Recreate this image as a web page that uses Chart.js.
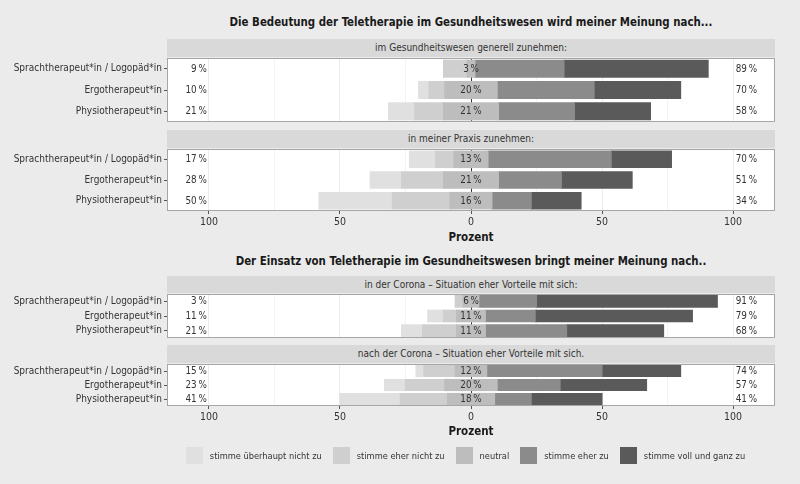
<!DOCTYPE html>
<html>
<head>
<meta charset="utf-8">
<script src="https://cdn.jsdelivr.net/npm/chart.js@4"></script>
<style>
  body { margin: 0; background: #ebebeb; font-family: "DejaVu Sans Condensed", "Liberation Sans Narrow", sans-serif; color: #222; }
  #wrap { position: relative; width: 800px; height: 484px; overflow: hidden; }
  canvas { position: absolute; left: 0; }
  .titel { position: absolute; left: 167px; width: 608px; text-align: center; font-weight: bold; font-size: 13px; line-height: 18px;
           white-space: nowrap; transform: scaleX(0.875); color: #1a1a1a; }
  .strip { position: absolute; left: 167px; width: 608px; background: #d9d9d9; text-align: center; font-size: 10px; color: #333; white-space: nowrap; }
  .achse { position: absolute; left: 167px; width: 608px; text-align: center; font-weight: bold; font-size: 11.5px; line-height: 16px; color: #1a1a1a; }
  #legende { position: absolute; left: 167px; width: 608px; top: 447px; display: flex; justify-content: center; align-items: center;
             font-size: 9.2px; color: #333; white-space: nowrap; }
  #legende span.box { display: inline-block; width: 17px; height: 17px; margin-right: 7px; }
  #legende span.txt { margin-right: 11px; }
</style>
</head>
<body>
<div id="wrap">
  <div class="titel" style="top:13px">Die Bedeutung der Teletherapie im Gesundheitswesen wird meiner Meinung nach...</div>
  <div class="strip" style="top:39px;height:18px;line-height:18px">im Gesundheitswesen generell zunehmen:</div>
  <canvas id="generell" width="800" height="64" style="top:58px"></canvas>
  <div class="strip" style="top:130px;height:18px;line-height:18px">in meiner Praxis zunehmen:</div>
  <canvas id="praxis" width="800" height="80" style="top:149px"></canvas>
  <div class="achse" style="top:229px">Prozent</div>

  <div class="titel" style="top:252px">Der Einsatz von Teletherapie im Gesundheitswesen bringt meiner Meinung nach..</div>
  <div class="strip" style="top:276px;height:17px;line-height:17px">in der Corona – Situation eher Vorteile mit sich:</div>
  <canvas id="coronaJetzt" width="800" height="44" style="top:294px"></canvas>
  <div class="strip" style="top:345px;height:18px;line-height:18px">nach der Corona – Situation eher Vorteile mit sich.</div>
  <canvas id="coronaNach" width="800" height="60" style="top:364px"></canvas>
  <div class="achse" style="top:423px">Prozent</div>

  <div id="legende"></div>
</div>

<script>
// ---------------------------------------------- Daten
const berufe = ['Sprachtherapeut*in / Logopäd*in', 'Ergotherapeut*in', 'Physiotherapeut*in'];
const stufen = ['stimme überhaupt nicht zu', 'stimme eher nicht zu', 'neutral', 'stimme eher zu', 'stimme voll und ganz zu'];
const farben = ['#e0e0e0', '#cfcfcf', '#bdbdbd', '#8b8b8b', '#5a5a5a'];

// je Beruf: [überhaupt nicht, eher nicht, neutral, eher zu, voll und ganz] in %
const generell    = [[0, 9, 3, 34, 55], [4, 6, 20, 37, 33], [10, 11, 21, 29, 29]];
const praxis      = [[10, 7, 13, 47, 23], [12, 16, 21, 24, 27], [28, 22, 16, 15, 19]];
const coronaJetzt = [[0, 3, 6, 22, 69], [6, 5, 11, 19, 60], [8, 13, 11, 31, 37]];
const coronaNach  = [[3, 12, 12, 44, 30], [8, 15, 20, 24, 33], [23, 18, 18, 14, 27]];

const achsenWerte = [-100, -75, -50, -25, 0, 25, 50, 75, 100];
const achsenText  = ['100', '', '50', '', '0', '', '50', '', '100'];

const schrift = '"DejaVu Sans Condensed", "Liberation Sans Narrow", sans-serif';
Chart.defaults.font.family = schrift;
Chart.defaults.font.size = 10;
Chart.defaults.color = '#333';

// weißer Hintergrund + Rahmen ums Panel
const panelPlugin = {
  id: 'panel',
  beforeDraw(chart) {
    const a = chart.chartArea, ctx = chart.ctx;
    ctx.save();
    ctx.fillStyle = '#ffffff';
    ctx.fillRect(a.left, a.top, a.right - a.left, a.bottom - a.top);
    ctx.restore();
  },
  afterDraw(chart) {
    const a = chart.chartArea, ctx = chart.ctx;
    ctx.save();
    ctx.strokeStyle = '#a6a6a6';
    ctx.lineWidth = 1;
    ctx.strokeRect(a.left + 0.5, a.top + 0.5, a.right - a.left - 1, a.bottom - a.top - 1);
    ctx.restore();
  }
};

function prozentPlugin(rows) {
  return {
    id: 'prozente',
    afterDatasetsDraw(chart) {
      const ctx = chart.ctx, x = chart.scales.x, y = chart.scales.y;
      ctx.save();
      ctx.font = '9.8px ' + schrift;
      ctx.fillStyle = '#333';
      ctx.textBaseline = 'middle';
      rows.forEach((r, i) => {
        const py = y.getPixelForValue(i) + 0.5;
        ctx.textAlign = 'right';
        ctx.fillText((r[0] + r[1]) + '\u2009%', x.getPixelForValue(-100.8), py);
        ctx.textAlign = 'center';
        ctx.fillText(r[2] + '\u2009%', x.getPixelForValue(0), py);
        ctx.textAlign = 'left';
        ctx.fillText((r[3] + r[4]) + '\u2009%', x.getPixelForValue(101), py);
      });
      ctx.restore();
    }
  };
}

function facette(id, rows, mitAchse) {
  const neg = k => rows.map(r => -r[k]);
  const pos = k => rows.map(r => r[k]);
  const datasets = [
    { label: stufen[2], data: rows.map(r => -r[2] / 2), backgroundColor: farben[2] },
    { label: stufen[1], data: neg(1), backgroundColor: farben[1] },
    { label: stufen[0], data: neg(0), backgroundColor: farben[0] },
    { label: stufen[2], data: rows.map(r => r[2] / 2), backgroundColor: farben[2] },
    { label: stufen[3], data: pos(3), backgroundColor: farben[3] },
    { label: stufen[4], data: pos(4), backgroundColor: farben[4] }
  ];
  datasets.forEach(d => {
    d.barPercentage = 0.8; d.categoryPercentage = 1; d.borderWidth = 0; d.inflateAmount = 0.5;
  });

  return new Chart(document.getElementById(id), {
    type: 'bar',
    data: { labels: berufe, datasets: datasets },
    options: {
      indexAxis: 'y',
      responsive: false,
      animation: false,
      devicePixelRatio: 1,
      layout: { padding: { left: 0, right: 25, top: 0, bottom: 0 } },
      plugins: { legend: { display: false }, tooltip: { enabled: false } },
      scales: {
        x: {
          stacked: true,
          min: -116,
          max: 116,
          afterBuildTicks: s => { s.ticks = achsenWerte.map(v => ({ value: v })); },
          afterFit: s => { s.height = mitAchse ? 18 : 0; s.paddingLeft = 0; s.paddingRight = 0; },
          ticks: { display: mitAchse, autoSkip: false, maxRotation: 0, padding: 2, color: '#333',
                   font: { size: 10.5 }, callback: (v, i) => achsenText[i] },
          grid: {
            drawTicks: mitAchse,
            tickLength: 3,
            color: c => c.tick && c.tick.value === 0 ? '#333' : '#ebebeb',
            lineWidth: c => c.tick && c.tick.value % 50 === 0 ? 1 : 0.6,
            tickColor: c => c.tick && c.tick.value % 50 === 0 ? '#555' : 'rgba(0,0,0,0)'
          },
          border: { display: false }
        },
        y: {
          stacked: true,
          afterFit: s => { s.width = 167; s.paddingTop = 0; s.paddingBottom = 0; },
          grid: { drawOnChartArea: false, offset: false, tickLength: 3, color: '#555' },
          ticks: { padding: 2, color: '#333', font: { size: 10 }, autoSkip: false },
          border: { display: false }
        }
      }
    },
    plugins: [panelPlugin, prozentPlugin(rows)]
  });
}

//---------------------------------------------- Facetten
var chartGenerell = facette('generell', generell, false);
var chartPraxis = facette('praxis', praxis, true);
var chartCoronaJetzt = facette('coronaJetzt', coronaJetzt, false);
var chartCoronaNach = facette('coronaNach', coronaNach, true);

//---------------------------------------------- Legende
const legende = document.getElementById('legende');
stufen.forEach((s, i) => {
  legende.insertAdjacentHTML('beforeend',
    '<span class="box" style="background:' + farben[i] + '"></span><span class="txt">' + s + '</span>');
});
</script>
</body>
</html>
